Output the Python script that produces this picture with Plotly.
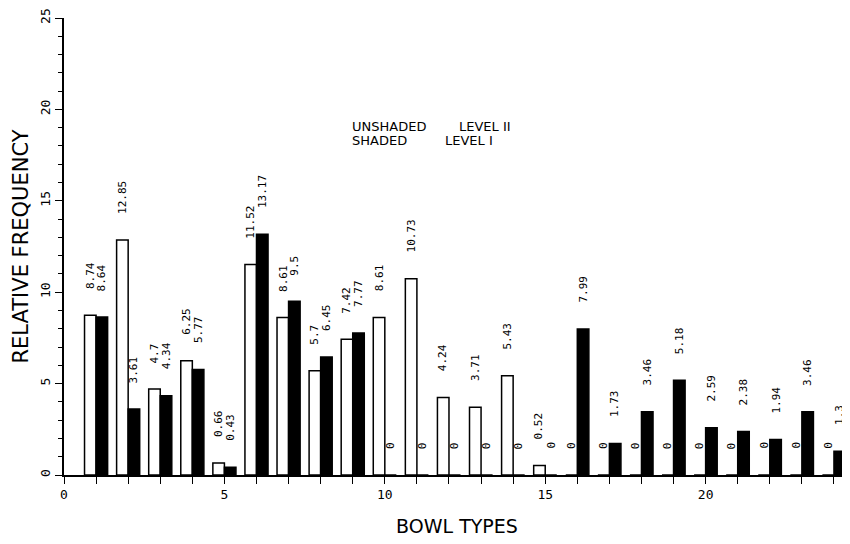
import plotly.graph_objects as go

# bowl types 1..24, relative frequency per level
bowl_types = list(range(1, 25))
level_2 = [8.74, 12.85, 4.7, 6.25, 0.66, 11.52, 8.61, 5.7, 7.42, 8.61, 10.73, 4.24,
           3.71, 5.43, 0.52, 0, 0, 0, 0, 0, 0, 0, 0, 0]          # unshaded
level_1 = [8.64, 3.61, 4.34, 5.77, 0.43, 13.17, 9.5, 6.45, 7.77, 0, 0, 0,
           0, 0, 0, 7.99, 1.73, 3.46, 5.18, 2.59, 2.38, 1.94, 3.46, 1.3]  # shaded

x_ticks = [0, 5, 10, 15, 20]
y_ticks = [0, 5, 10, 15, 20, 25]

BW = 0.36
LBL_FONT = dict(family="DejaVu Sans Mono", size=11, color="black")
KEY_FONT = dict(family="DejaVu Sans", size=13, color="black")

# page has an 8px body margin, so the figure is drawn at (8, 8)
W, H = 842, 536
ML, MT, MB = 56, 10, 69

fig = go.Figure()
fig.add_trace(go.Bar(x=bowl_types, y=level_2, width=BW, offset=-BW, name="LEVEL II",
                     marker=dict(color="white", line=dict(color="black", width=1.5))))
fig.add_trace(go.Bar(x=bowl_types, y=level_1, width=BW, offset=0, name="LEVEL I",
                     marker=dict(color="black", line=dict(color="black", width=1.5))))

# value labels, rotated, above each bar
annos = []
for series, shift in [(level_2, -BW / 2), (level_1, BW / 2)]:
    for t, v in zip(bowl_types, series):
        annos.append(dict(x=t + shift, y=v, xref="x", yref="y", text=f"{v:g}",
                          textangle=-90, showarrow=False, yanchor="bottom",
                          yshift=24, font=LBL_FONT))


def px2paper(px, py):
    # page pixel -> paper coords
    fx = (px - 8 - ML) / (W - ML)
    fy = 1 - (py - 8 - MT) / (H - MT - MB)
    return fx, fy


for txt, px, py in [("UNSHADED", 350, 126), ("LEVEL II", 457, 126),
                    ("SHADED", 350, 141), ("LEVEL I", 443, 141)]:
    fx, fy = px2paper(px, py)
    annos.append(dict(x=fx, y=fy, xref="paper", yref="paper", text=txt,
                      showarrow=False, xanchor="left", yanchor="middle", font=KEY_FONT))

fig.update_layout(
    width=W, height=H,
    margin=dict(l=ML, r=0, t=MT, b=MB),
    paper_bgcolor="white", plot_bgcolor="white",
    barmode="overlay", showlegend=False,
    annotations=annos,
    font=dict(family="DejaVu Sans", color="black"),
)
fig.update_xaxes(
    range=[0, 24.5], tickvals=x_ticks, ticktext=[str(v) for v in x_ticks],
    showline=True, linecolor="black", linewidth=1.5, ticks="outside", ticklen=7,
    tickcolor="black", minor=dict(dtick=1, ticks="outside", ticklen=7, tickcolor="black"),
    showgrid=False, zeroline=False, ticklabelstandoff=0,
    tickfont=dict(size=13, family="DejaVu Sans Mono"),
    title=dict(text="BOWL TYPES", font=dict(size=19, family="DejaVu Sans"), standoff=18),
)
fig.update_yaxes(
    range=[0, 25], tickvals=y_ticks, ticktext=[str(v) for v in y_ticks], tickangle=-90,
    showline=True, linecolor="black", linewidth=1.5, ticks="outside", ticklen=7,
    tickcolor="black", minor=dict(dtick=1, ticks="outside", ticklen=4, tickcolor="black"),
    showgrid=False, zeroline=False, ticklabelstandoff=0,
    tickfont=dict(size=13, family="DejaVu Sans Mono"),
    title=dict(text="RELATIVE FREQUENCY", font=dict(size=21, family="DejaVu Sans"), standoff=4),
)

fig.write_html("out.html")
